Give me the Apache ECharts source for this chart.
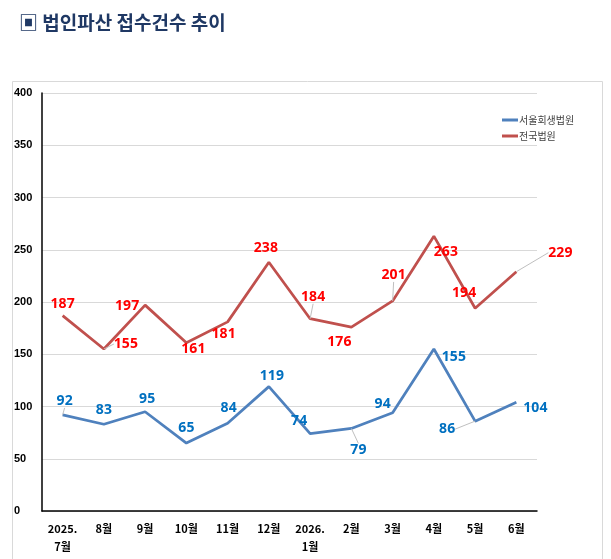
<!DOCTYPE html>
<html>
<head>
<meta charset="utf-8">
<script src="https://cdn.jsdelivr.net/npm/echarts@6/dist/echarts.min.js"></script>
<style>
html,body{margin:0;padding:0;background:#fff;}
#c{width:611px;height:559px;}
</style>
</head>
<body>
<div id="c"></div>
<script>
const categories = ['2025.\n7월','8월','9월','10월','11월','12월','2026.\n1월','2월','3월','4월','5월','6월'];
const seoulValues = [92,83,95,65,84,119,74,79,94,155,86,104];
const nationalValues = [187,155,197,161,181,238,184,176,201,263,194,229];
const yTicks = [0,50,100,150,200,250,300,350,400];

// label offsets (dx, dy) from each point
const seoulLabelOffsets = [[2,-14],[0,-14],[2,-13],[0,-15],[1,-15],[3,-11],[-11,-13],[7,22],[-10,-9],[20,8],[-28,8],[19,6]];
const nationalLabelOffsets = [[0,-12],[22,-5],[-18,1],[7,6],[-4,12],[-3,-14],[3,-22],[-12,15],[1,-26],[12,16],[-11,-15],[44,-19]];
const seoulLeader = [true,false,false,false,false,false,false,true,false,false,true,false];
const nationalLeader = [false,true,false,false,false,false,true,false,true,false,false,true];

const chart = echarts.init(document.getElementById('c'), null, {renderer:'canvas'});

function mkData(vals, leaders){
  return vals.map((v,i)=>({value:v, labelLine:{show:leaders[i]}}));
}
function mkLayout(offs){
  return function(p){ const o = offs[p.dataIndex]; return {dx:o[0], dy:o[1]}; };
}

chart.setOption({
  animation:false,
  title:{
    text:'▣ 법인파산 접수건수 추이',
    left:14, top:8,
    textStyle:{fontFamily:'Noto Sans CJK KR', fontWeight:'bold', fontSize:19, color:'#1F3864'}
  },
  graphic:[{
    type:'rect', z:-1,
    shape:{x:12.5, y:81.5, width:590, height:490},
    style:{fill:'#fff', stroke:'#d9d9d9', lineWidth:1}
  }],
  legend:{
    orient:'vertical', left:497, top:110, itemWidth:16, itemHeight:3, itemGap:6,
    icon:'rect',
    textStyle:{fontFamily:'Noto Sans CJK KR', fontSize:10, color:'#404040', padding:[0,0,0,-4]},
    data:['서울회생법원','전국법원']
  },
  grid:{left:42, right:74, top:93, bottom:48},
  xAxis:{
    type:'category', data:categories, boundaryGap:true,
    axisLine:{lineStyle:{color:'#000', width:1.5}},
    axisTick:{show:false},
    axisLabel:{interval:0, margin:9, lineHeight:18, color:'#000', fontWeight:'bold', fontSize:11, fontFamily:'Noto Sans CJK KR'}
  },
  yAxis:{
    type:'value', min:0, max:400, interval:50,
    axisLine:{show:true, lineStyle:{color:'#000', width:1.5}},
    axisTick:{show:false},
    splitLine:{lineStyle:{color:'#d9d9d9', width:1}},
    axisLabel:{align:'left', margin:28, color:'#000', fontWeight:'bold', fontSize:11, fontFamily:'Liberation Sans',
      formatter:v=> yTicks.includes(v)? String(v):''}
  },
  series:[
    {
      name:'서울회생법원', type:'line', symbol:'circle', symbolSize:0.01, showSymbol:true,
      data:mkData(seoulValues, seoulLeader),
      lineStyle:{color:'#4F81BD', width:2.75}, itemStyle:{color:'#4F81BD'},
      label:{show:true, position:'inside', color:'#0070C0', fontWeight:'bold', fontSize:14, fontFamily:'Noto Sans'},
      labelLayout:mkLayout(seoulLabelOffsets),
      labelLine:{show:true, lineStyle:{color:'#bfbfbf', width:1}}
    },
    {
      name:'전국법원', type:'line', symbol:'circle', symbolSize:0.01, showSymbol:true,
      data:mkData(nationalValues, nationalLeader),
      lineStyle:{color:'#C0504D', width:2.75}, itemStyle:{color:'#C0504D'},
      label:{show:true, position:'inside', color:'#FF0000', fontWeight:'bold', fontSize:14, fontFamily:'Noto Sans'},
      labelLayout:mkLayout(nationalLabelOffsets),
      labelLine:{show:true, lineStyle:{color:'#bfbfbf', width:1}}
    }
  ]
});
</script>
</body>
</html>
